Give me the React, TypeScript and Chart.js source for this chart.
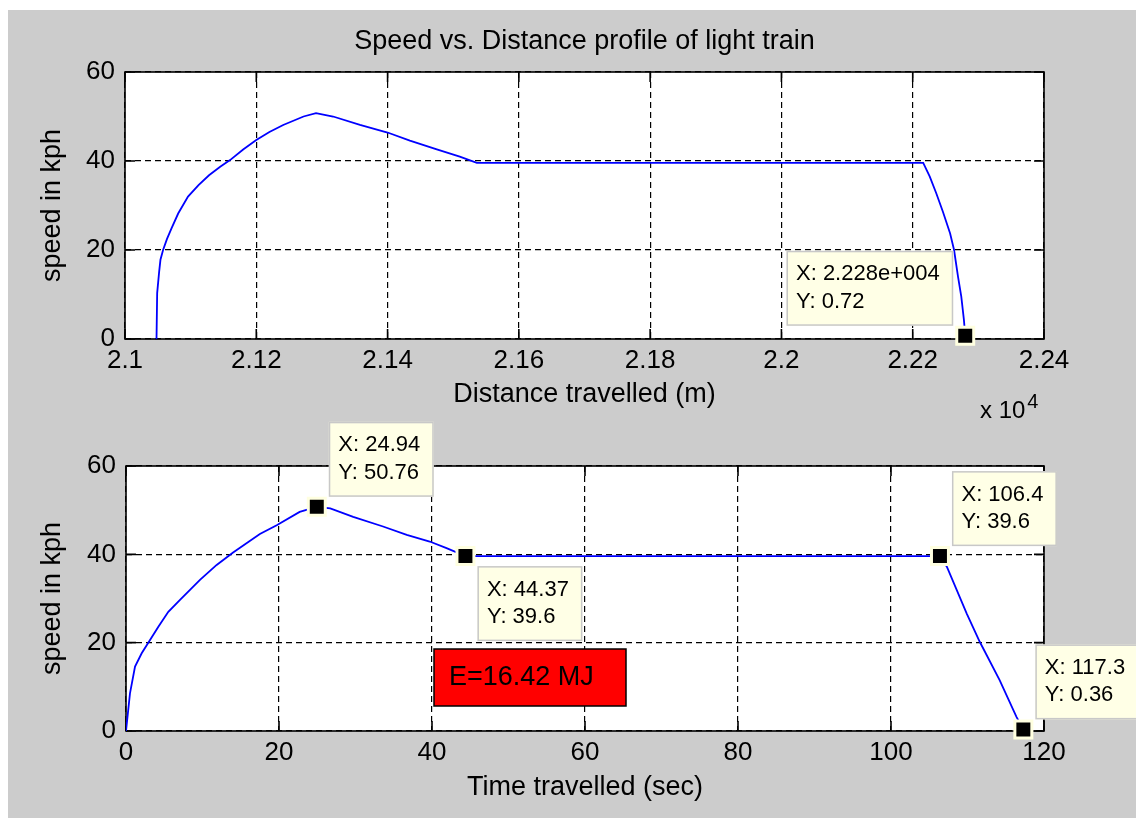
import { useEffect, useRef } from "react";
import { Chart, registerables } from "chart.js";

Chart.register(...registerables);

const FONT = '"Liberation Sans", Arial, Helvetica, sans-serif';

// Upper panel: speed (kph) against distance travelled (m)
const distanceM = [
  21048, 21049, 21052, 21054, 21058, 21064, 21071, 21081, 21096, 21112, 21128,
  21145, 21160, 21180, 21200, 21220, 21241, 21272, 21291, 21317, 21358, 21400,
  21434, 21475, 21510, 21536, 22216, 22226, 22236, 22246, 22257, 22263, 22269,
  22274, 22278, 22280,
];
const distanceSpeedKph = [
  0, 10.3, 15.1, 17.8, 20.0, 22.5, 24.9, 28.2, 32.0, 34.6, 36.8,
  38.7, 40.2, 42.6, 44.7, 46.5, 48.1, 50.0, 50.76, 50.0, 48.1, 46.4,
  44.6, 42.6, 41.0, 39.6, 39.6, 36.5, 32.7, 28.6, 23.7, 20.0, 14.0,
  9.5, 4.3, 0.72,
];
const distanceTicksE4 = [2.1, 2.12, 2.14, 2.16, 2.18, 2.2, 2.22, 2.24];
const distanceTipX = [22280];
const distanceTipY = [0.72];

// Lower panel: speed (kph) against time travelled (s)
const timeSec = [
  0, 0.52, 1.18, 2.05, 3.14, 4.23, 5.53, 7.06, 9.67, 11.85, 14.0, 17.5, 19.7,
  22.7, 24.94, 26.7, 29.7, 33.6, 36.7, 39.7, 41.9, 44.37, 106.4, 107.3, 109.9,
  111.6, 114.2, 116.4, 117.3,
];
const timeSpeedKph = [
  0, 8.5, 14.6, 17.6, 20.6, 23.6, 27.0, 29.7, 34.2, 37.6, 40.4, 44.6, 46.6,
  49.6, 50.76, 50.4, 48.5, 46.3, 44.4, 42.9, 41.4, 39.6, 39.6, 37.2, 26.6,
  20.2, 11.5, 3.2, 0.36,
];
const timeTicks = [0, 20, 40, 60, 80, 100, 120];
const timeTipX = [24.94, 44.37, 106.4, 117.3];
const timeTipY = [50.76, 39.6, 39.6, 0.36];

const speedTicks = [0, 20, 40, 60];
const energyLabel = "E=16.42 MJ";

// %.4g style number formatting used by the data tips
const fmtG4 = (v: number): string => {
  if (v === 0) return "0";
  const e = Math.floor(Math.log10(Math.abs(v)));
  if (e >= 4 || e < -4) {
    const m = parseFloat((v / Math.pow(10, e)).toFixed(3));
    return `${m}e${e < 0 ? "-" : "+"}${String(Math.abs(e)).padStart(3, "0")}`;
  }
  return String(parseFloat(v.toPrecision(4)));
};

const pts = (xs: number[], ys: number[]) => xs.map((x, i) => ({ x, y: ys[i] }));

type TipSide = "ne" | "nw" | "se" | "sw";

const drawTip = (ctx: CanvasRenderingContext2D, px: number, py: number, xv: number, yv: number, side: TipSide) => {
  const xText = `X: ${fmtG4(xv)}`;
  const yText = `Y: ${fmtG4(yv)}`;
  ctx.font = `22px ${FONT}`;
  const w = Math.max(ctx.measureText(xText).width, ctx.measureText(yText).width) + 23;
  const h = 75;
  const gx = 12;
  const gy = 10;
  const left = side[1] === "e" ? px + gx : px - gx - w;
  const top = side[0] === "n" ? py - gy - h : py + gy;
  ctx.fillStyle = "#ffffe6";
  ctx.fillRect(left, top, w, h);
  ctx.strokeStyle = "#c8c8c8";
  ctx.lineWidth = 1.5;
  ctx.setLineDash([]);
  ctx.strokeRect(left + 0.75, top + 0.75, w - 1.5, h - 1.5);
  ctx.fillStyle = "#000";
  ctx.textAlign = "left";
  ctx.textBaseline = "middle";
  ctx.fillText(xText, left + 9.5, top + 23.5);
  ctx.fillText(yText, left + 9.5, top + 51);
};

// Axes box, inward tick marks, data tips and extra figure text
const figurePlugin = {
  id: "figure",
  beforeDraw(chart: any) {
    const { ctx, chartArea: a } = chart;
    ctx.save();
    ctx.fillStyle = "#ffffff";
    ctx.fillRect(a.left, a.top, a.right - a.left, a.bottom - a.top);
    ctx.restore();
  },
  beforeDatasetsDraw(chart: any) {
    const { ctx, chartArea: a, scales } = chart;
    const T = 10;
    ctx.save();
    ctx.strokeStyle = "#000";
    ctx.lineWidth = 1.6;
    ctx.setLineDash([]);
    ctx.beginPath();
    for (const t of scales.x.ticks) {
      const x = scales.x.getPixelForValue(t.value);
      ctx.moveTo(x, a.bottom);
      ctx.lineTo(x, a.bottom - T);
      ctx.moveTo(x, a.top);
      ctx.lineTo(x, a.top + T);
    }
    for (const t of scales.y.ticks) {
      const y = scales.y.getPixelForValue(t.value);
      ctx.moveTo(a.left, y);
      ctx.lineTo(a.left + T, y);
      ctx.moveTo(a.right, y);
      ctx.lineTo(a.right - T, y);
    }
    ctx.stroke();
    ctx.strokeRect(a.left, a.top, a.right - a.left, a.bottom - a.top);
    ctx.restore();
  },
  afterDatasetsDraw(chart: any, _args: any, opts: any) {
    const { ctx, chartArea: a, scales } = chart;
    ctx.save();
    const tips = chart.data.datasets[0].data as { x: number; y: number }[];
    tips.forEach((p, i) => {
      const px = scales.x.getPixelForValue(p.x);
      const py = scales.y.getPixelForValue(p.y);
      drawTip(ctx, px, py, p.x, p.y, (opts.sides && opts.sides[i]) || "ne");
    });
    if (opts.exponent) {
      ctx.fillStyle = "#000";
      ctx.textAlign = "left";
      ctx.textBaseline = "alphabetic";
      ctx.font = `24px ${FONT}`;
      const x0 = a.right - 64;
      const y0 = a.bottom + 79;
      ctx.fillText("x 10", x0, y0);
      const w = ctx.measureText("x 10").width;
      ctx.font = `20px ${FONT}`;
      ctx.fillText("4", x0 + w + 2, y0 - 10);
    }
    if (opts.energy) {
      const left = a.left + 308;
      const top = a.top + 183;
      const w = 192;
      const h = 57;
      ctx.fillStyle = "#ff0000";
      ctx.fillRect(left, top, w, h);
      ctx.strokeStyle = "#000";
      ctx.lineWidth = 1.5;
      ctx.setLineDash([]);
      ctx.strokeRect(left, top, w, h);
      ctx.fillStyle = "#000";
      ctx.textAlign = "left";
      ctx.textBaseline = "middle";
      ctx.font = `27px ${FONT}`;
      ctx.fillText(opts.energy, left + 15, top + h / 2);
    }
    ctx.restore();
  },
};

const gridOpts = { color: "#000", lineWidth: 1.2, drawTicks: false };
const borderOpts = { display: false, dash: [6, 4] };
const tickFont = { family: FONT, size: 26 };
const labelFont = { family: FONT, size: 27, weight: "normal" as const };

const markerDataset = (xs: number[], ys: number[]) => ({
  data: pts(xs, ys),
  showLine: false,
  pointStyle: "rect" as const,
  pointRadius: 12,
  pointHoverRadius: 12,
  pointBackgroundColor: "#000",
  pointBorderColor: "#ffffe0",
  pointBorderWidth: 3,
  clip: false as const,
  order: 0,
});

const lineDataset = (xs: number[], ys: number[]) => ({
  data: pts(xs, ys),
  showLine: true,
  borderColor: "#0000ff",
  borderWidth: 1.8,
  pointRadius: 0,
  tension: 0,
  order: 1,
});

const speedAxis = (width: number) => ({
  type: "linear" as const,
  min: 0,
  max: 60,
  afterBuildTicks: (s: any) => {
    s.ticks = speedTicks.map((v) => ({ value: v }));
  },
  afterFit: (s: any) => {
    s.width = width;
  },
  ticks: { color: "#000", font: tickFont, padding: 10, autoSkip: false },
  grid: gridOpts,
  border: borderOpts,
  title: {
    display: true,
    text: "speed in kph",
    color: "#000",
    font: labelFont,
    padding: { top: 36.8, bottom: 0 },
  },
});

export default function App() {
  const topRef = useRef<HTMLCanvasElement>(null);
  const bottomRef = useRef<HTMLCanvasElement>(null);

  useEffect(() => {
    const top = new Chart(topRef.current as HTMLCanvasElement, {
      type: "scatter",
      data: {
        datasets: [
          markerDataset(distanceTipX, distanceTipY),
          lineDataset(distanceM, distanceSpeedKph),
        ],
      },
      plugins: [figurePlugin],
      options: {
        animation: false,
        responsive: false,
        devicePixelRatio: 1,
        events: [],
        layout: { padding: { left: 0, top: 0, right: 92, bottom: 11 } },
        plugins: {
          legend: { display: false },
          tooltip: { enabled: false },
          title: {
            display: true,
            fullSize: false,
            text: "Speed vs. Distance profile of light train",
            color: "#000",
            font: labelFont,
            padding: { top: 25.8, bottom: 13.8 },
          },
          figure: { sides: ["nw"], exponent: true },
        } as any,
        scales: {
          x: {
            type: "linear",
            min: 21000,
            max: 22400,
            afterBuildTicks: (s: any) => {
              s.ticks = distanceTicksE4.map((v) => ({ value: Math.round(v * 1e4) }));
            },
            afterFit: (s: any) => {
              s.height = 90;
            },
            ticks: {
              color: "#000",
              font: tickFont,
              padding: 6,
              autoSkip: false,
              maxRotation: 0,
              callback: (v: any) => String(+(Number(v) / 1e4).toFixed(2)),
            },
            grid: gridOpts,
            border: borderOpts,
            title: {
              display: true,
              text: "Distance travelled (m)",
              color: "#000",
              font: labelFont,
              padding: { top: 0, bottom: 17.8 },
            },
          },
          y: speedAxis(125),
        } as any,
      },
    });

    const bottom = new Chart(bottomRef.current as HTMLCanvasElement, {
      type: "scatter",
      data: {
        datasets: [markerDataset(timeTipX, timeTipY), lineDataset(timeSec, timeSpeedKph)],
      },
      plugins: [figurePlugin],
      options: {
        animation: false,
        responsive: false,
        devicePixelRatio: 1,
        events: [],
        layout: { padding: { left: 0, top: 61, right: 92, bottom: 7 } },
        plugins: {
          legend: { display: false },
          tooltip: { enabled: false },
          figure: { sides: ["ne", "se", "ne", "ne"], energy: energyLabel },
        } as any,
        scales: {
          x: {
            type: "linear",
            min: 0,
            max: 120,
            afterBuildTicks: (s: any) => {
              s.ticks = timeTicks.map((v) => ({ value: v }));
            },
            afterFit: (s: any) => {
              s.height = 80;
            },
            ticks: { color: "#000", font: tickFont, padding: 6, autoSkip: false, maxRotation: 0 },
            grid: gridOpts,
            border: borderOpts,
            title: {
              display: true,
              text: "Time travelled (sec)",
              color: "#000",
              font: labelFont,
              padding: { top: 0, bottom: 6.8 },
            },
          },
          y: speedAxis(126),
        } as any,
      },
    });

    return () => {
      top.destroy();
      bottom.destroy();
    };
  }, []);

  return (
    <div
      style={{
        position: "fixed",
        left: 0,
        top: 0,
        width: 1136,
        height: 818,
        background: "#ffffff",
        overflow: "hidden",
      }}
    >
      <div style={{ position: "absolute", left: 8, top: 10, width: 1128, height: 808, background: "#cccccc" }} />
      <canvas ref={topRef} width={1136} height={440} style={{ position: "absolute", left: 0, top: 0 }} />
      <canvas ref={bottomRef} width={1136} height={413} style={{ position: "absolute", left: 0, top: 405 }} />
    </div>
  );
}
